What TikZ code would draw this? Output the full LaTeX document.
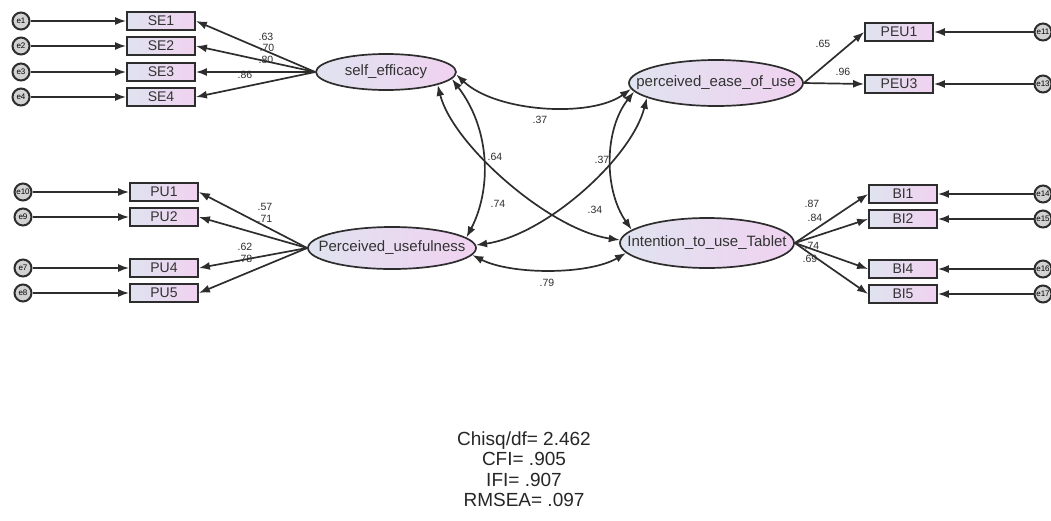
\documentclass[tikz,border=0pt]{standalone}
\usepackage{fontspec}
\setmainfont{Liberation Sans}
\usetikzlibrary{shapes.geometric,arrows.meta}
\definecolor{ln}{RGB}{45,45,45}
\definecolor{fl}{RGB}{224,227,240}
\definecolor{fr}{RGB}{240,210,240}
\newcommand\lbltxt[1]{\makebox[0pt]{#1}}
\tikzset{
 obs/.style={draw=ln, line width=1.8pt, left color=fl, right color=fr, minimum width=68pt, minimum height=18pt, inner sep=0pt, font=\fontsize{14}{14}\selectfont, text=black!80},
 lat/.style={ellipse, draw=ln, line width=1.7pt, left color=fl, right color=fr, inner sep=0pt, font=\fontsize{15}{15}\selectfont, text=black!80},
 err/.style={circle, draw=ln, line width=2pt, fill=gray!35, minimum size=17pt, inner sep=0pt, font=\fontsize{8}{8}\selectfont},
 arr/.style={draw=ln, line width=1.7pt, -{Latex[length=11pt,width=8pt]}},
 cov/.style={draw=ln, line width=1.7pt, {Latex[length=11pt,width=8pt]}-{Latex[length=11pt,width=8pt]}},
 coef/.style={font=\fontsize{10.5}{10.5}\selectfont, text=ln, inner sep=0pt},
}
\begin{document}
\begin{tikzpicture}[x=1pt,y=-1pt]
\useasboundingbox (0,0) rectangle (1051,520);
\clip (0,0) rectangle (1051,520);

% latent variables
\node[lat, minimum width=140pt, minimum height=36pt] (se) at (386,72) {\lbltxt{self\_efficacy}};
\node[lat, minimum width=168pt, minimum height=42pt] (pu) at (392,248) {\lbltxt{Perceived\_usefulness}};
\node[lat, minimum width=174pt, minimum height=46pt] (peu) at (716,83) {\lbltxt{perceived\_ease\_of\_use}};
\node[lat, minimum width=174pt, minimum height=50pt] (int) at (707,243) {\lbltxt{Intention\_to\_use\_Tablet}};

% observed variables
\node[obs] (se1) at (161,21) {SE1};
\node[obs] (se2) at (161,46) {SE2};
\node[obs] (se3) at (161,72) {SE3};
\node[obs] (se4) at (161,97) {SE4};
\node[obs] (pu1) at (164,192) {PU1};
\node[obs] (pu2) at (164,217) {PU2};
\node[obs] (pu4) at (164,268) {PU4};
\node[obs] (pu5) at (164,293) {PU5};
\node[obs] (peu1) at (899,32) {PEU1};
\node[obs] (peu3) at (899,84) {PEU3};
\node[obs] (bi1) at (903,194) {BI1};
\node[obs] (bi2) at (903,219) {BI2};
\node[obs] (bi4) at (903,269) {BI4};
\node[obs] (bi5) at (903,294) {BI5};

% error terms
\node[err] (e1) at (21,21) {e1};
\node[err] (e2) at (21,46) {e2};
\node[err] (e3) at (21,72) {e3};
\node[err] (e4) at (21,97) {e4};
\node[err] (e10) at (23,192) {e10};
\node[err] (e9) at (23,217) {e9};
\node[err] (e7) at (23,268) {e7};
\node[err] (e8) at (23,293) {e8};
\node[err] (e11) at (1043,32) {e11};
\node[err] (e13) at (1043,84) {e13};
\node[err] (e14) at (1043,194) {e14};
\node[err] (e15) at (1043,219) {e15};
\node[err] (e16) at (1043,269) {e16};
\node[err] (e17) at (1043,294) {e17};

\foreach \a/\b in {e1/se1,e2/se2,e3/se3,e4/se4,e10/pu1,e9/pu2,e7/pu4,e8/pu5,e11/peu1,e13/peu3,e14/bi1,e15/bi2,e16/bi4,e17/bi5}
  \draw[arr] (\a) -- (\b);

% loadings
\foreach \b in {se1,se2,se3,se4} \draw[arr] (se.west) -- (\b.east);
\foreach \b in {pu1,pu2,pu4,pu5} \draw[arr] (pu.west) -- (\b.east);
\foreach \b in {peu1,peu3} \draw[arr] (peu.east) -- (\b.west);
\foreach \b in {bi1,bi2,bi4,bi5} \draw[arr] (int.east) -- (\b.west);

% covariances
\draw[cov] (se.-2) .. controls +(40,38) and +(-40,29) .. (peu.184);
\draw[cov] (se.-6) .. controls +(39,51) and +(25,-48) .. (pu.8);
\draw[cov] (se.-14) .. controls +(15,60) and +(-70,-10) .. (int.178);
\draw[cov] (peu.192) .. controls +(-15,60) and +(70,-10) .. (pu.2);
\draw[cov] (peu.186) .. controls +(-30,38) and +(-28,-40) .. (int.170);
\draw[cov] (pu.-5) .. controls +(39,20) and +(-37,22) .. (int.187);

% coefficient labels
\node[coef] (l1) at (266,37) {.63};
\node[coef] (l2) at (267,48) {.70};
\node[coef] (l3) at (266,60) {.80};
\node[coef] (l4) at (245,75) {.86};
\node[coef] (l5) at (265,207) {.57};
\node[coef] (l6) at (265,219) {.71};
\node[coef] (l7) at (245,247) {.62};
\node[coef] (l8) at (245,259) {.78};
\node[coef] (l9) at (823,44) {.65};
\node[coef] (l10) at (843,72) {.96};
\node[coef] (l11) at (812,204) {.87};
\node[coef] (l12) at (815,218) {.84};
\node[coef] (l13) at (812,246) {.74};
\node[coef] (l14) at (810,259) {.69};
\node[coef] (c1) at (540,120) {.37};
\node[coef] (c2) at (495,157) {.64};
\node[coef] (c3) at (498,204) {.74};
\node[coef] (c4) at (602,160) {.37};
\node[coef] (c5) at (595,210) {.34};
\node[coef] (c6) at (547,283) {.79};

% fit indices
\node[font=\fontsize{19}{20.5}\selectfont, align=center, text=black!85] (fit) at (524,469)
  {Chisq/df= 2.462\\CFI= .905\\IFI= .907\\RMSEA= .097};
\end{tikzpicture}
\end{document}
